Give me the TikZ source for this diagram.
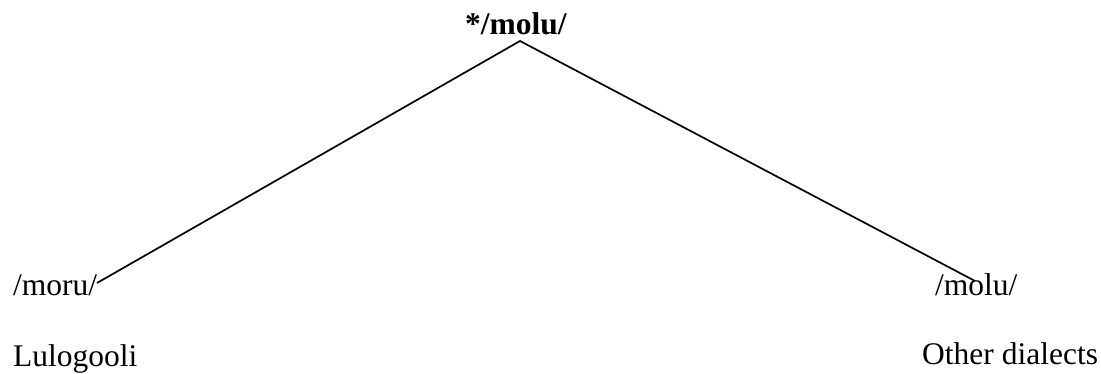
\documentclass[tikz,border=0pt]{standalone}
\usepackage{fontspec}
\setmainfont{Liberation Serif}
\begin{document}
\begin{tikzpicture}[x=1pt,y=-1pt,
  lab/.style={inner sep=0pt,anchor=base west,font=\fontsize{31.5}{36}\selectfont},
  edge/.style={line width=1.7pt}]
\useasboundingbox (0,0) rectangle (1101,374);
\node[lab,font=\fontsize{31.5}{36}\selectfont\bfseries] (root) at (465,35) {*/molu/};
\node[lab] (moru) at (13,295) {/moru/};
\node[lab] (molu) at (935,295) {/molu/};
\node[lab] (lulo) at (13,366) {Lulogooli};
\node[lab] (other) at (922,364) {Other dialects};
\coordinate (apex) at (520,41);
\coordinate (lend) at (97,283);
\coordinate (rend) at (975,281);
\draw[edge] (lend) -- (apex) -- (rend);
\end{tikzpicture}
\end{document}
